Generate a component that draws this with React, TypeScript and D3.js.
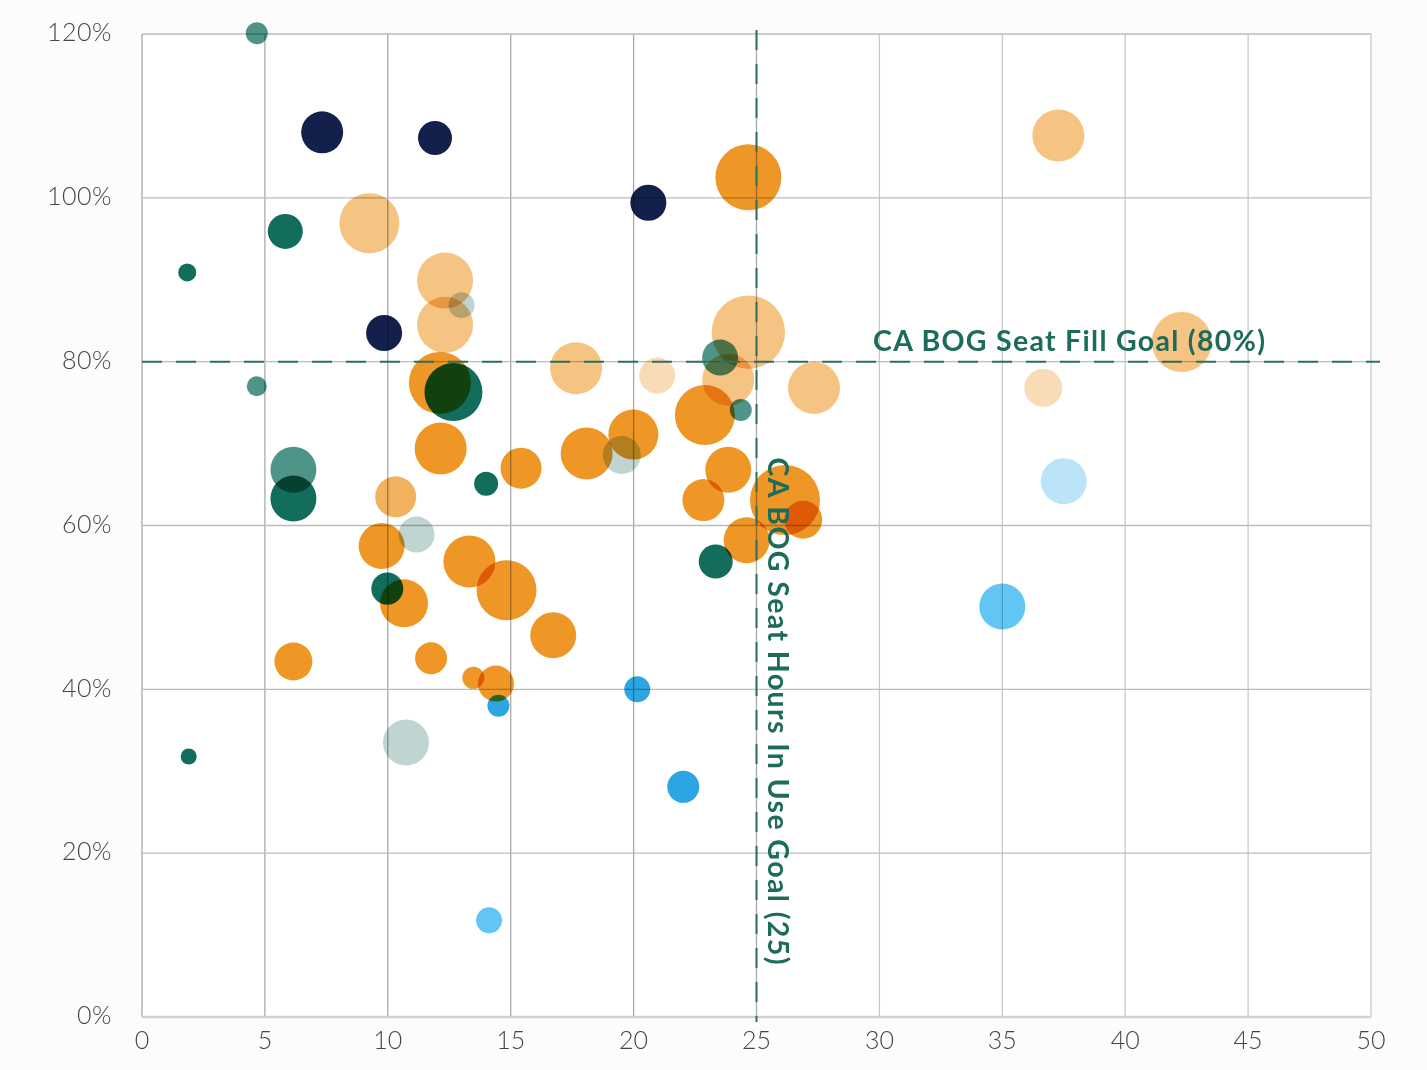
import React from "react";
import * as d3 from "d3";

// [seat hours in use, seat fill rate %, size (area units)]
const navyPoints: [number, number, number][] = [
  [7.33, 108.0, 441],
  [11.92, 107.3, 289],
  [20.6, 99.4, 324],
  [9.85, 83.5, 324],
];
const darkTealPoints: [number, number, number][] = [
  [5.83, 95.9, 306],
  [1.84, 90.9, 81],
  [12.67, 76.3, 841],
  [14.0, 65.1, 144],
  [6.16, 63.3, 529],
  [9.98, 52.3, 256],
  [23.34, 55.6, 289],
  [1.9, 31.8, 64],
];
const midTealPoints: [number, number, number][] = [
  [4.67, 120.1, 121],
  [4.67, 77.0, 100],
  [6.16, 66.8, 529],
  [23.52, 80.5, 324],
  [24.36, 74.1, 121],
];
const lightTealPoints: [number, number, number][] = [
  [13.0, 86.9, 169],
  [11.17, 58.9, 324],
  [19.52, 68.6, 361],
  [10.74, 33.5, 529],
];
const orangePoints: [number, number, number][] = [
  [24.67, 102.5, 1089],
  [12.12, 77.4, 961],
  [12.15, 69.4, 676],
  [15.42, 67.0, 420],
  [9.75, 57.5, 529],
  [13.32, 55.6, 676],
  [14.83, 52.1, 900],
  [10.66, 50.5, 576],
  [16.73, 46.6, 529],
  [6.16, 43.4, 361],
  [11.76, 43.8, 256],
  [13.48, 41.4, 121],
  [14.4, 40.7, 324],
  [22.9, 73.5, 900],
  [18.09, 68.8, 676],
  [19.99, 71.1, 625],
  [23.85, 66.8, 529],
  [22.84, 63.1, 441],
  [26.16, 63.1, 1225],
  [26.9, 60.7, 361],
  [24.6, 58.2, 529],
];
const midOrangePoints: [number, number, number][] = [[10.32, 63.5, 420]];
const lightOrangePoints: [number, number, number][] = [
  [9.25, 96.9, 900],
  [12.33, 89.9, 784],
  [12.33, 84.5, 784],
  [24.67, 83.6, 1347],
  [23.85, 77.8, 676],
  [17.66, 79.2, 676],
  [27.34, 76.8, 676],
  [37.28, 107.6, 676],
  [42.3, 82.4, 900],
];
const paleOrangePoints: [number, number, number][] = [
  [20.96, 78.3, 324],
  [36.67, 76.8, 361],
];
const bluePoints: [number, number, number][] = [
  [14.5, 38.0, 121],
  [20.15, 40.0, 169],
  [22.02, 28.1, 256],
];
const midBluePoints: [number, number, number][] = [
  [14.12, 11.8, 169],
  [35.0, 50.1, 529],
];
const paleBluePoints: [number, number, number][] = [[37.5, 65.4, 529]];

const xTicks = [0, 5, 10, 15, 20, 25, 30, 35, 40, 45, 50];
const yTicks = [0, 20, 40, 60, 80, 100, 120];

const seatHoursGoal = 25;
const seatFillGoal = 80;
const fillGoalLabel = "CA BOG Seat Fill Goal (80%)";
const hoursGoalLabel = "CA BOG Seat Hours In Use Goal (25)";

const groups = [
  { name: "paleOrange", data: paleOrangePoints, color: "#ec8c10", opacity: 0.3 },
  { name: "lightOrange", data: lightOrangePoints, color: "#ec8c10", opacity: 0.52 },
  { name: "midOrange", data: midOrangePoints, color: "#ec8c10", opacity: 0.68 },
  { name: "orange", data: orangePoints, color: "#ec8c10", opacity: 0.9 },
  { name: "paleBlue", data: paleBluePoints, color: "#3cb2ee", opacity: 0.35 },
  { name: "midBlue", data: midBluePoints, color: "#2db3f0", opacity: 0.75 },
  { name: "blue", data: bluePoints, color: "#1a9de0", opacity: 0.92 },
  { name: "lightTeal", data: lightTealPoints, color: "#2f7066", opacity: 0.3 },
  { name: "midTeal", data: midTealPoints, color: "#0b6b5a", opacity: 0.72 },
  { name: "darkTeal", data: darkTealPoints, color: "#0a6857", opacity: 0.97 },
  { name: "navy", data: navyPoints, color: "#13204b", opacity: 1 },
];

const W = 1427;
const H = 1070;

export default function App() {
  const x = d3.scaleLinear().domain([0, 50]).range([142, 1371]);
  const y = d3.scaleLinear().domain([0, 120]).range([1017, 34]);
  const r = d3.scaleSqrt().domain([0, 1400]).range([0, Math.sqrt(1400)]);

  const tickFont = "Lato, 'Open Sans', sans-serif";
  const labelFont = "Lato, 'Open Sans', sans-serif";
  const goalColor = "#1d6b5a";

  return (
    <svg
      width={W}
      height={H}
      style={{ position: "absolute", left: 0, top: 0, display: "block", background: "#fcfcfc" }}
    >
      <rect x={x(0)} y={y(120)} width={x(50) - x(0)} height={y(0) - y(120)} fill="#ffffff" />
      {/* grid */}
      {xTicks.map((t) => (
        <line
          key={"gx" + t}
          x1={x(t)}
          x2={x(t)}
          y1={y(120)}
          y2={y(0)}
          stroke={t <= 25 ? "#a9a9a9" : "#c9c9c9"}
          strokeWidth={1.3}
        />
      ))}
      {yTicks.map((t) => (
        <line
          key={"gy" + t}
          x1={x(0)}
          x2={x(50)}
          y1={y(t)}
          y2={y(t)}
          stroke={t === 0 ? "#d2d2d2" : "#bcbcbc"}
          strokeWidth={t === 0 ? 2.5 : 1.3}
        />
      ))}
      {/* tick labels */}
      {yTicks.map((t) => (
        <text
          key={"ty" + t}
          x={112}
          y={y(t) + 1}
          textAnchor="end"
          dominantBaseline="middle"
          fontFamily={tickFont}
          fontSize={25}
          fontWeight={300}
          fill="#454545"
          letterSpacing={0.5}
        >
          {t + "%"}
        </text>
      ))}
      {xTicks.map((t) => (
        <text
          key={"tx" + t}
          x={x(t)}
          y={1043}
          textAnchor="middle"
          dominantBaseline="middle"
          fontFamily={tickFont}
          fontSize={25}
          fontWeight={300}
          fill="#454545"
        >
          {t}
        </text>
      ))}
      {/* bubbles */}
      <g>
        {groups.map((g) =>
          g.data.map((d, i) => (
            <circle
              key={g.name + i}
              cx={x(d[0])}
              cy={y(d[1])}
              r={r(d[2])}
              fill={g.color}
              fillOpacity={g.opacity}
              style={{ mixBlendMode: "multiply" }}
            />
          ))
        )}
      </g>
      {/* goal lines */}
      <line
        x1={x(0)}
        x2={x(50) + 9}
        y1={y(seatFillGoal)}
        y2={y(seatFillGoal)}
        stroke="#2f6f60"
        strokeWidth={2}
        strokeDasharray="20 14"
      />
      <line
        x1={x(seatHoursGoal)}
        x2={x(seatHoursGoal)}
        y1={y(120) - 4}
        y2={y(0) + 5}
        stroke="#2f6f60"
        strokeWidth={2}
        strokeDasharray="20 14"
      />
      <text
        x={x(29.74)}
        y={y(seatFillGoal) - 11}
        fontFamily={labelFont}
        fontWeight={700}
        fontSize={28.5}
        fill={goalColor}
        textLength={392}
        lengthAdjust="spacing"
      >
        {fillGoalLabel}
      </text>
      <text
        transform={`translate(${x(seatHoursGoal) + 11},${y(68.3)}) rotate(90)`}
        fontFamily={labelFont}
        fontWeight={700}
        fontSize={28.5}
        fill={goalColor}
        textLength={507}
        lengthAdjust="spacing"
      >
        {hoursGoalLabel}
      </text>
    </svg>
  );
}
